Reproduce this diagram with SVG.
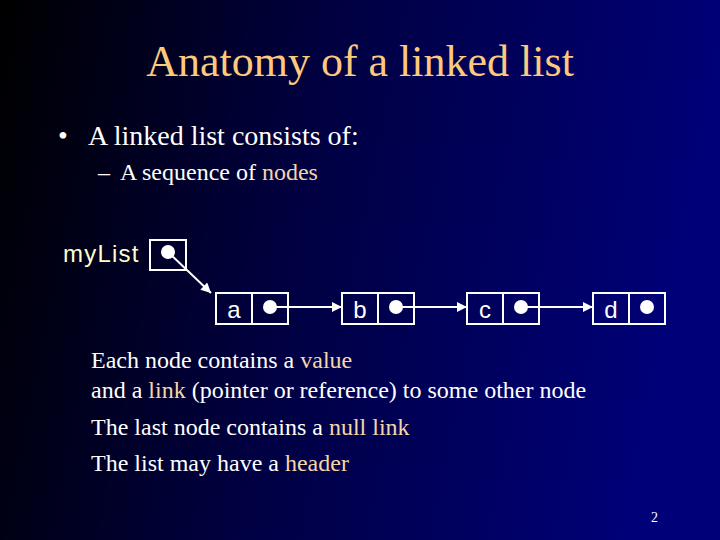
<svg xmlns="http://www.w3.org/2000/svg" width="720" height="540" viewBox="0 0 720 540">
<defs>
<linearGradient id="bg" x1="0" y1="0" x2="1" y2="0.15">
<stop offset="0" stop-color="#000000"/>
<stop offset="0.45" stop-color="#000040"/>
<stop offset="1" stop-color="#000078"/>
</linearGradient>
<marker id="arr" viewBox="0 0 10 10" refX="10" refY="5" markerWidth="5" markerHeight="5" markerUnits="strokeWidth" orient="auto">
<path d="M0,0 L10,5 L0,10 z" fill="#ffffff"/>
</marker>
</defs>
<style>
.serif{font-family:"Liberation Serif","Times New Roman",serif;fill:#ffffff}
.hl{fill:#f5d6a8}
.sans{font-family:"Liberation Sans",Arial,sans-serif;fill:#ffffff;font-size:24px}
.box{fill:none;stroke:#ffffff;stroke-width:2}
.dot{fill:#ffffff}
.link{stroke:#ffffff;stroke-width:2;fill:none;marker-end:url(#arr)}
.body{font-size:24px}
</style>
<rect x="0" y="0" width="720" height="540" fill="url(#bg)"/>
<text x="360" y="76" text-anchor="middle" class="serif" style="font-size:44px;fill:#fdc97c">Anatomy of a linked list</text>
<text x="58" y="145" class="serif" style="font-size:28px">•</text>
<text x="88" y="145" class="serif" style="font-size:28px">A linked list consists of:</text>
<text x="98" y="180" class="serif body">–</text>
<text x="120" y="180" class="serif body">A sequence of <tspan class="hl">nodes</tspan></text>

<g id="myList">
<text x="63" y="262" class="sans" style="fill:#ffffcc;letter-spacing:1.2px">myList</text>
<rect x="150" y="240" width="36" height="30" class="box"/>
<circle cx="168" cy="252" r="7" class="dot"/>
</g>
<g id="node-a">
<rect x="216" y="293" width="36" height="31" class="box"/>
<rect x="252" y="293" width="36" height="31" class="box"/>
<text x="234" y="318" text-anchor="middle" class="sans">a</text>
<circle cx="270" cy="307" r="7" class="dot"/>
</g>
<g id="node-b">
<rect x="342" y="293" width="36" height="31" class="box"/>
<rect x="378" y="293" width="36" height="31" class="box"/>
<text x="360" y="318" text-anchor="middle" class="sans">b</text>
<circle cx="396" cy="307" r="7" class="dot"/>
</g>
<g id="node-c">
<rect x="467" y="293" width="36" height="31" class="box"/>
<rect x="503" y="293" width="36" height="31" class="box"/>
<text x="485" y="318" text-anchor="middle" class="sans">c</text>
<circle cx="521" cy="307" r="7" class="dot"/>
</g>
<g id="node-d">
<rect x="593" y="293" width="36" height="31" class="box"/>
<rect x="629" y="293" width="36" height="31" class="box"/>
<text x="611" y="318" text-anchor="middle" class="sans">d</text>
<circle cx="647" cy="307" r="7" class="dot"/>
</g>
<g id="connectors">
<line x1="168" y1="252" x2="211" y2="293" class="link"/>
<line x1="270" y1="307" x2="342" y2="307" class="link"/>
<line x1="396" y1="307" x2="467" y2="307" class="link"/>
<line x1="521" y1="307" x2="593" y2="307" class="link"/>
</g>

<text x="91" y="368" class="serif body">Each node contains a <tspan class="hl">value</tspan></text>
<text x="91" y="398" class="serif body">and a <tspan class="hl">link</tspan> (pointer or reference) to some other node</text>
<text x="91" y="435" class="serif body">The last node contains a <tspan class="hl">null link</tspan></text>
<text x="91" y="471" class="serif body">The list may have a <tspan class="hl">header</tspan></text>
<text x="651" y="522" class="serif" style="font-size:14px">2</text>
</svg>
